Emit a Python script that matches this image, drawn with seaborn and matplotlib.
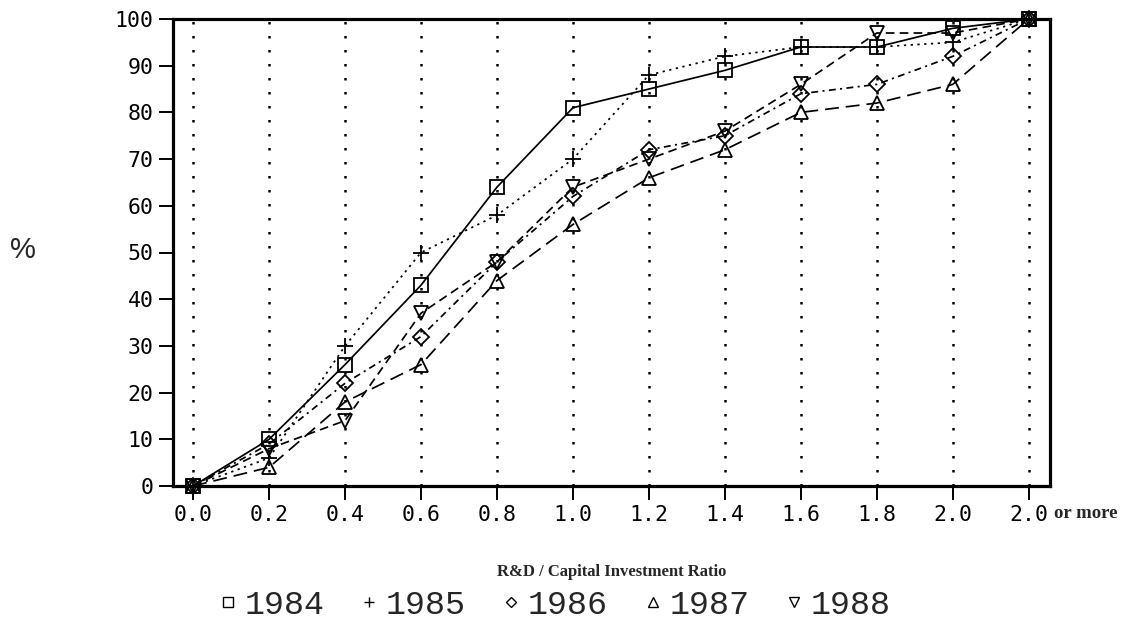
import matplotlib
matplotlib.use("Agg")
import matplotlib.pyplot as plt
import pandas as pd
import seaborn as sns
from matplotlib.lines import Line2D

# Cumulative share of firms (%) by R&D / capital investment ratio
ratio_labels = ["0.0", "0.2", "0.4", "0.6", "0.8", "1.0",
                "1.2", "1.4", "1.6", "1.8", "2.0", "2.0"]
years = ["1984", "1985", "1986", "1987", "1988"]
pct_1984 = [0, 10, 26, 43, 64, 81, 85, 89, 94, 94, 98, 100]
pct_1985 = [0, 6, 30, 50, 58, 70, 88, 92, 94, 94, 95, 100]
pct_1986 = [0, 9, 22, 32, 48, 62, 72, 75, 84, 86, 92, 100]
pct_1987 = [0, 4, 18, 26, 44, 56, 66, 72, 80, 82, 86, 100]
pct_1988 = [0, 8, 14, 37, 48, 64, 70, 76, 86, 97, 97, 100]
y_ticks = [0, 10, 20, 30, 40, 50, 60, 70, 80, 90, 100]

series = dict(zip(years, [pct_1984, pct_1985, pct_1986, pct_1987, pct_1988]))
rows = []
for yr, vals in series.items():
    for i, v in enumerate(vals):
        rows.append({"pos": i, "pct": v, "year": yr})
df = pd.DataFrame(rows)

sns.set_style("ticks")
plt.rcParams["font.family"] = ["DejaVu Sans Mono", "DejaVu Sans"]

marker_map = {"1984": "s", "1985": "+", "1986": "D", "1987": "^", "1988": "v"}
size_map = {"1984": 10.5, "1985": 12, "1986": 8, "1987": 10, "1988": 10}
dash_map = {"1984": (None, None), "1985": (1.3, 2.6), "1986": (4, 2.5, 1.2, 2.5),
            "1987": (8, 4), "1988": (5, 3)}

fig, ax = plt.subplots(figsize=(11.3, 6.23), dpi=100)
fig.subplots_adjust(left=173 / 1130, right=1050 / 1130,
                    bottom=1 - 486 / 623, top=1 - 19 / 623)

for yr in years:
    sub = df[df["year"] == yr]
    kws = dict(color="black", linewidth=1.25, marker=marker_map[yr],
               markersize=size_map[yr], markerfacecolor="none",
               markeredgecolor="black", markeredgewidth=1.3,
               clip_on=False, zorder=3)
    if yr != "1984":
        kws["dashes"] = dash_map[yr]
    sns.lineplot(data=sub, x="pos", y="pct", ax=ax, legend=False, **kws)

ax.set_xlim(-0.265, 11.28)
ax.set_ylim(0, 100)
ax.set_xticks(range(len(ratio_labels)))
ax.set_xticklabels(ratio_labels)
ax.set_yticks(y_ticks)
ax.set_yticklabels([str(t) for t in y_ticks])

ax.grid(axis="x", color="black", linestyle=(0, (1, 4.6)), linewidth=1.8)
ax.grid(axis="y", visible=False)

for side in ["left", "right", "top", "bottom"]:
    ax.spines[side].set_visible(True)
    ax.spines[side].set_linewidth(2.3)
    ax.spines[side].set_color("black")

ax.tick_params(axis="both", direction="out", length=10, width=1.4,
               colors="black", labelsize=15.5)
ax.tick_params(axis="x", pad=4)
ax.tick_params(axis="y", pad=4)

ax.set_xlabel("")
ax.set_ylabel("")

ax.text(11.33, -0.058, "or more", transform=ax.get_xaxis_transform(),
        ha="left", va="center", family="Liberation Serif",
        fontweight="bold", fontsize=13.5)

fig.text(23 / 1130, 1 - 250 / 623, "%", ha="center", va="center",
         family="Liberation Sans", fontsize=21)

fig.text(612 / 1130, 1 - 572 / 623, "R&D / Capital Investment Ratio",
         ha="center", va="center", family="Liberation Serif",
         fontweight="bold", fontsize=12)

handles = [Line2D([], [], linestyle="none", marker=marker_map[y],
                  markersize=7 if marker_map[y] != "D" else 5.5,
                  markerfacecolor="none", markeredgecolor="black",
                  markeredgewidth=1.0) for y in years]
fig.legend(handles, years, loc="center", bbox_to_anchor=(556 / 1130, 1 - 605 / 623),
           ncol=5, frameon=False, handlelength=0.4, handletextpad=0.3,
           columnspacing=1.15,
           prop={"family": "Liberation Mono", "size": 24})

fig.savefig("out.png", dpi=100)
